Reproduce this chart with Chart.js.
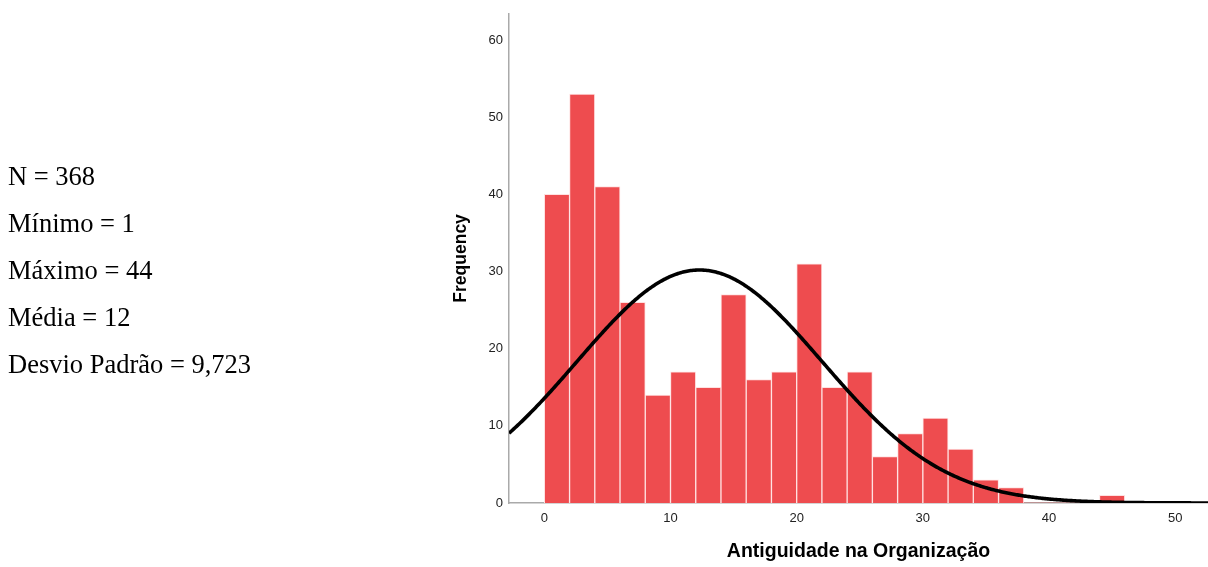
<!DOCTYPE html>
<html>
<head>
<meta charset="utf-8">
<script src="https://cdn.jsdelivr.net/npm/chart.js@4.4.1/dist/chart.umd.min.js"></script>
<style>
  html, body { margin: 0; padding: 0; background: #fff; }
  #wrap { position: absolute; left: 0; top: 0; width: 1208px; height: 567px; }
  #stats { position: absolute; left: 8px; top: 153px; font-family: "Liberation Serif", "Times New Roman", serif; font-size: 26.5px; line-height: 47px; color: #000; white-space: nowrap; }
</style>
</head>
<body>
<div id="wrap"><canvas id="c" width="1208" height="567"></canvas></div>
<div id="stats">
  <div>N = 368</div>
  <div>Mínimo = 1</div>
  <div>Máximo = 44</div>
  <div>Média = 12</div>
  <div>Desvio Padrão = 9,723</div>
</div>
<script>
// Histogram bins (lower edge of each 2-year bin) and frequencies
const binStarts = [0, 2, 4, 6, 8, 10, 12, 14, 16, 18, 20, 22, 24, 26, 28, 30, 32, 34, 36, 38, 40, 42, 44];
const frequencies = [40, 53, 41, 26, 14, 17, 15, 27, 16, 17, 31, 15, 17, 6, 9, 11, 7, 3, 2, 0, 0, 0, 1];
const binWidth = 2;
// Summary statistics used for the fitted normal curve
const nCount = 368;
const curveMean = 12.3;
const curveSD = 9.723;
// Axis ticks
const xTicks = [0, 10, 20, 30, 40, 50];
const yTicks = [0, 10, 20, 30, 40, 50, 60];
const xMin = -2.8, xMax = 52.6, yMax = 63.4;

const barData = binStarts.map((s, i) => ({ x: s + binWidth / 2, y: frequencies[i] }));

const curveData = [];
for (let i = 0; i <= 554; i++) {
  const x = xMin + i * 0.1;
  const z = (x - curveMean) / curveSD;
  const y = nCount * binWidth * Math.exp(-0.5 * z * z) / (curveSD * Math.sqrt(2 * Math.PI));
  curveData.push({ x: x, y: y });
}

new Chart(document.getElementById('c'), {
  type: 'bar',
  data: {
    datasets: [
      {
        type: 'line',
        data: curveData,
        borderColor: '#000',
        borderWidth: 3.6,
        pointRadius: 0,
        tension: 0,
        fill: false,
        order: 0
      },
      {
        type: 'bar',
        data: barData,
        backgroundColor: 'rgb(238,76,79)',
        borderColor: 'rgb(255,225,225)',
        borderWidth: (ctx) => (ctx.raw && ctx.raw.y > 0 ? 1 : 0),
        barPercentage: 1,
        categoryPercentage: 1,
        grouped: false,
        order: 1
      }
    ]
  },
  options: {
    responsive: false,
    animation: false,
    events: [],
    layout: { padding: { left: 451, top: 12, right: 0, bottom: 0 } },
    plugins: { legend: { display: false }, tooltip: { enabled: false } },
    scales: {
      x: {
        type: 'linear',
        min: xMin,
        max: xMax,
        offset: false,
        grid: { display: false, drawTicks: false },
        border: { display: true, color: '#aaaaaa', width: 1.5 },
        afterBuildTicks: (s) => { s.ticks = xTicks.map(v => ({ value: v })); },
        afterFit: (s) => { s.height = 64; },
        ticks: { padding: 8, color: '#222', font: { family: 'Liberation Sans, Arial, sans-serif', size: 13 } },
        title: {
          display: true,
          text: 'Antiguidade na Organização',
          color: '#000',
          padding: { top: 0, bottom: 3.3 },
          font: { family: 'Liberation Sans, Arial, sans-serif', size: 19.5, weight: 'bold' }
        }
      },
      y: {
        min: 0,
        max: yMax,
        grid: { display: false, drawTicks: false },
        border: { display: true, color: '#aaaaaa', width: 1.5 },
        afterBuildTicks: (s) => { s.ticks = yTicks.map(v => ({ value: v })); },
        afterFit: (s) => { s.width = 58; },
        ticks: { padding: 6, color: '#222', font: { family: 'Liberation Sans, Arial, sans-serif', size: 13 } },
        title: {
          display: true,
          text: 'Frequency',
          color: '#000',
          padding: { top: 0, bottom: 0 },
          font: { family: 'Liberation Sans, Arial, sans-serif', size: 17.5, weight: 'bold' }
        }
      }
    }
  }
});
</script>
</body>
</html>
